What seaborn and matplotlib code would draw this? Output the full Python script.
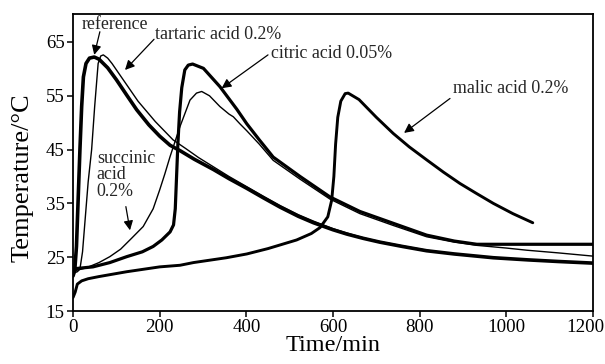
import numpy as np
import pandas as pd
import matplotlib
matplotlib.use("Agg")
import matplotlib.pyplot as plt
import matplotlib.transforms as mtransforms
import seaborn as sns

# ---- data ----
ref_t = [0, 4, 8, 12, 16, 20, 24, 30, 38, 49, 60, 80, 100, 125, 147, 175, 200, 224, 247,
         280, 324, 360, 401, 440, 478, 520, 555, 600, 632, 670, 708, 760, 816, 880, 970,
         1050, 1120, 1200]
ref_T = [21.5, 22.5, 27, 36, 45, 53, 58.5, 61, 62, 62.2, 61.8, 60.2, 58, 55, 52.4, 49.6,
         47.5, 45.8, 44.8, 43.2, 41.3, 39.6, 37.8, 36.0, 34.3, 32.6, 31.4, 30.1, 29.3,
         28.5, 27.8, 27.0, 26.2, 25.6, 24.9, 24.5, 24.2, 23.9]

tar_t = [0, 10, 16, 22, 28, 35, 43, 50, 58, 64, 70, 80, 90, 120, 150, 190, 231, 260, 290,
         324, 360, 401, 440, 478, 520, 555, 600, 632, 670, 708, 760, 816, 880, 970, 1050,
         1120, 1200]
tar_T = [22, 22.3, 22.8, 26, 32, 39, 45, 53, 61, 62.4, 62.6, 62, 61, 57.5, 54, 50.2,
         46.8, 45.2, 43.5, 41.8, 40, 38.1, 36.3, 34.6, 32.9, 31.7, 30.3, 29.5, 28.6, 27.9,
         27.1, 26.3, 25.6, 24.9, 24.5, 24.2, 23.9]

suc_t = [0, 5, 30, 60, 85, 110, 135, 162, 185, 200, 212, 224, 247, 270, 285, 297, 315, 339,
         360, 370, 385, 401, 430, 462, 524, 593, 662, 739, 816, 880, 932, 1000, 1047, 1120,
         1200]
suc_T = [22, 22.5, 23, 24, 25.1, 26.5, 28.5, 30.7, 34, 37.5, 40.5, 43.7, 49.3, 54.2, 55.5,
         55.8, 55, 53, 51.6, 51.1, 49.8, 48.5, 46, 43, 39.5, 35.8, 33.1, 30.9, 28.8, 27.8,
         27.2, 26.7, 26.3, 25.8, 25.2]

cit_t = [0, 8, 46, 85, 124, 160, 185, 205, 224, 232, 236, 239, 242, 246, 251, 258, 266,
         276, 301, 339, 378, 401, 430, 462, 524, 593, 662, 739, 816, 880, 932, 1000, 1100,
         1200]
cit_T = [22, 22.9, 23.2, 24, 25.1, 26, 27, 28.2, 29.7, 31, 34, 40, 46, 52, 56.5, 59.8, 60.7,
         60.9, 60.1, 56.7, 52.5, 49.8, 46.8, 43.6, 40, 36.2, 33.5, 31.3, 29.1, 28, 27.4,
         27.4, 27.4, 27.4]

mal_t = [0, 5, 10, 20, 35, 60, 124, 200, 247, 278, 354, 401, 450, 516, 550, 570, 588, 597,
         602, 606, 611, 618, 628, 635, 660, 700, 739, 776, 816, 855, 893, 930, 970, 1015,
         1061]
mal_T = [17.5, 18.5, 20, 20.6, 21, 21.4, 22.3, 23.2, 23.5, 24, 24.9, 25.6, 26.6, 28.2,
         29.4, 30.5, 32.5, 35.6, 40, 46, 51, 54, 55.4, 55.5, 54.3, 51, 48, 45.5, 43.1,
         40.8, 38.7, 36.9, 35, 33.1, 31.4]

x_ticks = [0, 200, 400, 600, 800, 1000, 1200]
y_ticks = [15, 25, 35, 45, 55, 65]

# ---- style ----
sns.set_theme(style="ticks")
plt.rcParams['font.family'] = ['Liberation Serif', 'DejaVu Serif']
plt.rcParams['mathtext.fontset'] = 'stix'

fig = plt.figure(figsize=(6.05, 3.64), dpi=100)
ax = fig.add_axes([73 / 605, 1 - 311 / 364, 520 / 605, 297 / 364])

series = [
    (ref_t, ref_T, 2.6),
    (tar_t, tar_T, 1.0),
    (suc_t, suc_T, 1.0),
    (cit_t, cit_T, 2.3),
    (mal_t, mal_T, 2.1),
]
for t, T, lw in series:
    df = pd.DataFrame({"t": t, "T": T})
    sns.lineplot(data=df, x="t", y="T", ax=ax, color="black", lw=lw,
                 estimator=None, sort=False, legend=False)

ax.set_xlim(0, 1200)
ax.set_ylim(15, 70.2)
ax.set_xticks(x_ticks)
ax.set_yticks(y_ticks)
ax.set_xticklabels([str(v) for v in x_ticks])
ax.set_yticklabels([str(v) for v in y_ticks])
ax.tick_params(direction='out', length=4, width=1.1, labelsize=13.6, colors='black', pad=2)
# keep the last x tick label inside the picture, as in the reference
last = ax.get_xticklabels()[-1]
last.set_transform(last.get_transform() +
                   mtransforms.ScaledTranslation(-8 / 100, 0, fig.dpi_scale_trans))
for s in ax.spines.values():
    s.set_visible(True)
    s.set_color('black')
    s.set_linewidth(1.3)
ax.set_xlabel("Time/min", fontsize=17.5, color='black', labelpad=-1)
ax.set_ylabel("Temperature/°C", fontsize=19, color='black')
ax.yaxis.set_label_coords(-0.076, 0.45)

arrow = dict(arrowstyle='-|>', color='black', lw=0.9, mutation_scale=14,
             shrinkA=0, shrinkB=0)
fs = 12.9
ax.text(20, 68.3, "reference", fontsize=fs, ha='left', va='center')
ax.annotate("", xy=(49, 62.6), xytext=(62, 66.9), arrowprops=arrow)
ax.text(189, 66.3, "tartaric acid 0.2%", fontsize=fs, ha='left', va='center')
ax.annotate("", xy=(120, 59.8), xytext=(187, 65.5), arrowprops=arrow)
ax.text(456, 62.9, "citric acid 0.05%", fontsize=fs, ha='left', va='center')
ax.annotate("", xy=(343, 56.4), xytext=(450, 62.6), arrowprops=arrow)
ax.text(876, 56.4, "malic acid 0.2%", fontsize=fs, ha='left', va='center')
ax.annotate("", xy=(764, 48.1), xytext=(870, 54.5), arrowprops=arrow)
ax.text(55, 40.3, "succinic\nacid\n0.2%", fontsize=fs, ha='left', va='center',
        linespacing=0.98)
ax.annotate("", xy=(131.5, 30), xytext=(122, 34.4), arrowprops=arrow)

fig.savefig("out.png", dpi=100)
